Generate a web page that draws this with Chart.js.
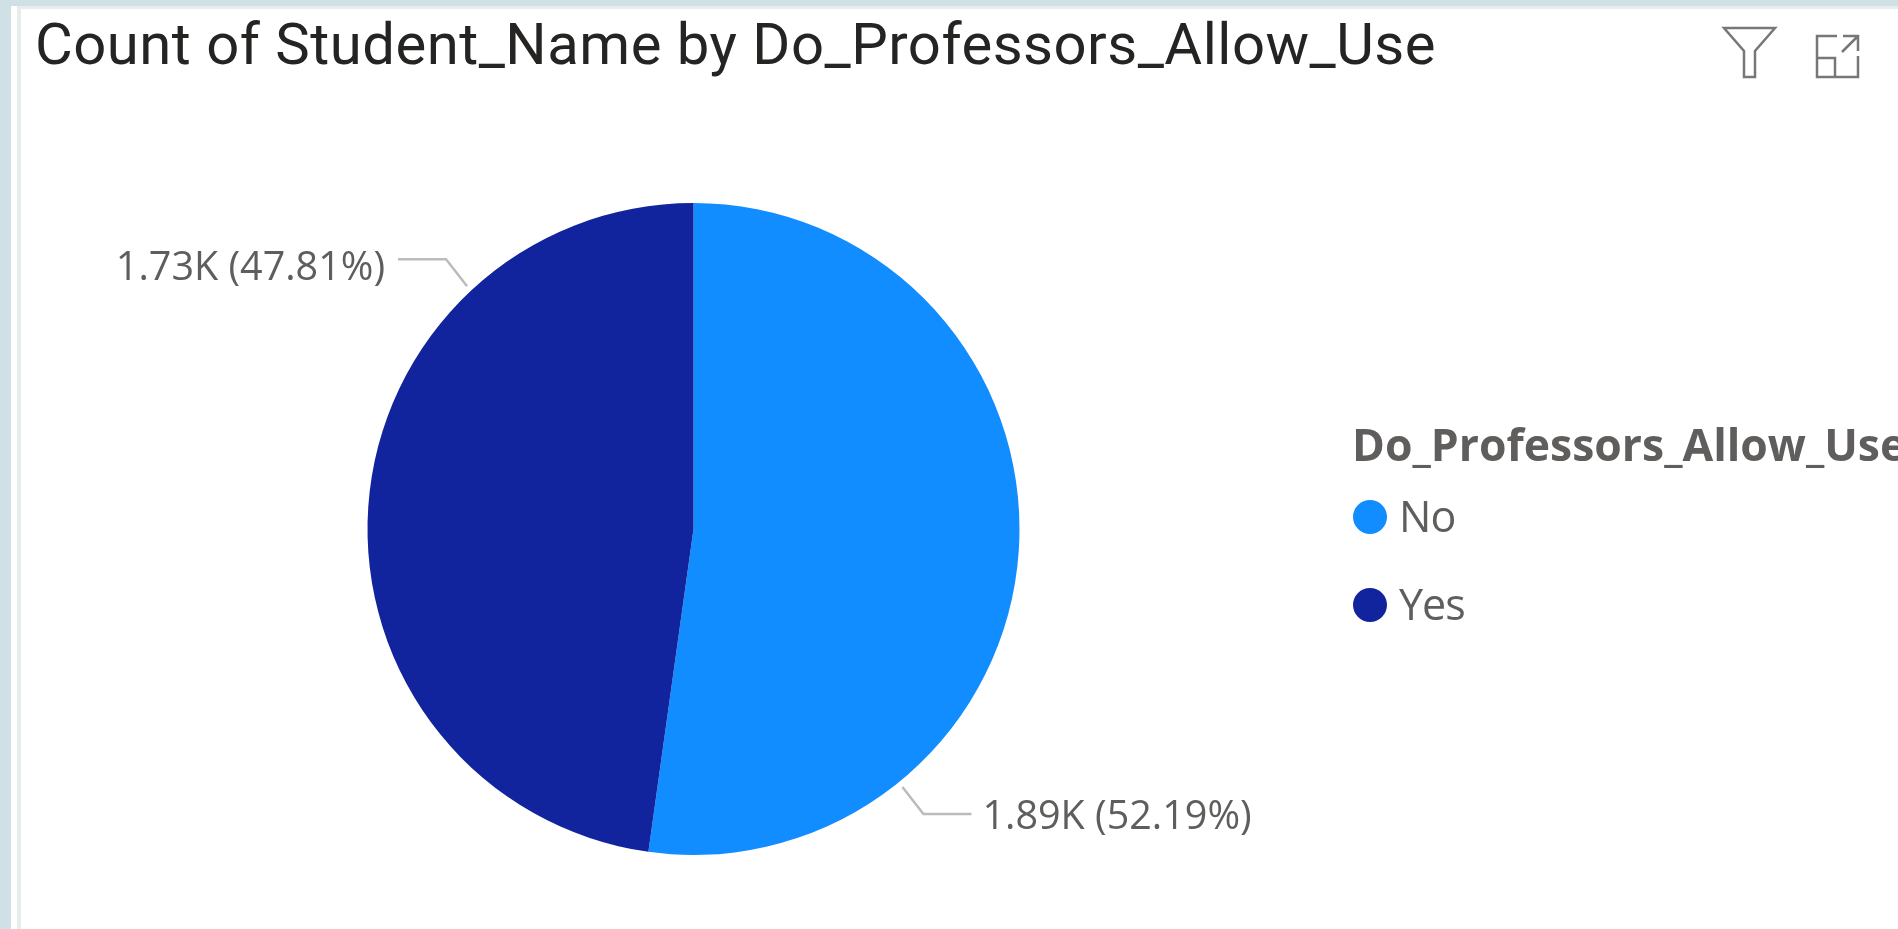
<!DOCTYPE html>
<html>
<head>
<meta charset="utf-8">
<title>Count of Student_Name by Do_Professors_Allow_Use</title>
<script src="https://cdn.jsdelivr.net/npm/chart.js@4/dist/chart.umd.min.js"></script>
<style>
html, body { margin: 0; padding: 0; width: 1898px; height: 929px; overflow: hidden; background: #d0e1e5; }
#strip { position: absolute; left: 11px; top: 6px; right: 0; bottom: 0; background: #fff; }
#panel { position: absolute; left: 17px; top: 6px; right: 0; bottom: 0; background: #fff; border-left: 4px solid #e9ecec; border-top: 3px solid #e9ecec; }
#chart { position: absolute; left: 0; top: 0; }
#title { position: absolute; left: 35px; top: 11px; font: 400 58px Roboto, sans-serif; letter-spacing: 0.5px; color: #252423; white-space: nowrap; line-height: 66px; }
#legend { position: absolute; left: 1352px; top: 416px; width: 546px; overflow: hidden; font-family: "Open Sans", sans-serif; color: #605e5c; }
#legend .head { font-weight: 700; font-size: 44.5px; line-height: 56px; white-space: nowrap; }
#legend .item { position: absolute; left: 0; height: 56px; line-height: 56px; font-size: 43px; white-space: nowrap; letter-spacing: -1px; }
#legend .dot { position: absolute; left: 1px; top: 12px; width: 34px; height: 34px; border-radius: 50%; }
#legend .name { position: absolute; left: 47px; }
svg { position: absolute; }
</style>
</head>
<body>
<div id="strip"></div>
<div id="panel"></div>
<canvas id="chart" width="1898" height="929"></canvas>
<div id="title">Count of Student_Name by Do_Professors_Allow_Use</div>
<svg style="left:1720px;top:24px" width="60" height="58" fill="none" stroke="#777" stroke-width="2.5">
  <path d="M4 4H55L35 27V53H24V27Z"/>
</svg>
<svg style="left:1813px;top:32px" width="52" height="50" fill="none" stroke="#777" stroke-width="2.5">
  <path d="M24 4H4V45H45V24M4 26H22V45M30 4H45V19M45 4L29 20"/>
</svg>
<div id="legend" style="height:240px"></div>
<script>
// values
var categories = ['No', 'Yes'];
var counts = [1890, 1730];
var pointLabels = ['1.89K (52.19%)', '1.73K (47.81%)'];
var sliceColors = ['#118DFF', '#12239E'];
var legendTitle = 'Do_Professors_Allow_Use';

// where the leader line leaves each slice, degrees clockwise from 12 o'clock
var leaderAngles = [141, 317];

var labelPlugin = {
    id: 'pieLabels',
    afterDatasetsDraw: function (chart) {
        var ctx = chart.ctx;
        var arcs = chart.getDatasetMeta(0).data;
        ctx.save();
        ctx.font = '400 39.5px "Open Sans", sans-serif';
        ctx.textBaseline = 'alphabetic';
        arcs.forEach(function (arc, i) {
            var a = (leaderAngles[i] - 90) * Math.PI / 180;
            var r = arc.outerRadius + 6;
            var x0 = arc.x + Math.cos(a) * r;
            var y0 = arc.y + Math.sin(a) * r;
            var dir = Math.cos(a) > 0 ? 1 : -1;
            var up = Math.sin(a) > 0 ? 1 : -1;
            var x1 = x0 + dir * 21;
            var y1 = y0 + up * 27;
            var x2 = x1 + dir * 48;
            ctx.strokeStyle = '#bdbbb9';
            ctx.lineWidth = 2.5;
            ctx.beginPath();
            ctx.moveTo(x0, y0);
            ctx.lineTo(x1, y1);
            ctx.lineTo(x2, y1);
            ctx.stroke();
            ctx.fillStyle = '#605e5c';
            ctx.textAlign = dir > 0 ? 'left' : 'right';
            ctx.fillText(pointLabels[i], x2 + dir * (dir > 0 ? 11 : 13), y1 + (dir > 0 ? 15 : 21));
        });
        ctx.restore();
    }
};

new Chart(document.getElementById('chart'), {
    type: 'pie',
    data: {
        labels: categories,
        datasets: [{
            data: counts,
            backgroundColor: sliceColors,
            borderWidth: 0
        }]
    },
    options: {
        responsive: false,
        animation: false,
        layout: { padding: { left: 367, right: 878, top: 203, bottom: 74 } },
        plugins: { legend: { display: false }, tooltip: { enabled: false } }
    },
    plugins: [labelPlugin]
});

// legend is clipped at the window edge in the reference, so it lives in html
var legend = document.getElementById('legend');
var html = '<div class="head">' + legendTitle + '</div>';
categories.forEach(function (name, i) {
    html += '<div class="item" style="top:' + (72 + i * 88) + 'px">' +
        '<span class="dot" style="background:' + sliceColors[i] + '"></span>' +
        '<span class="name">' + name + '</span></div>';
});
legend.innerHTML = html;
</script>
</body>
</html>
